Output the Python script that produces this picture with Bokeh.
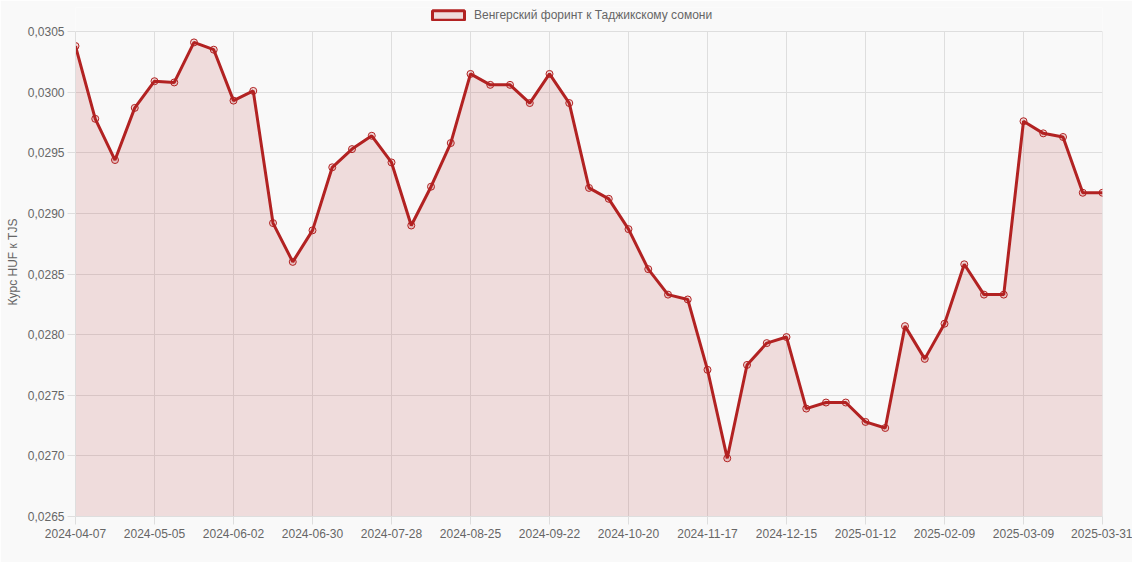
from bokeh.plotting import figure
from bokeh.models import Range1d, FixedTicker, CustomJSTickFormatter, Legend, LegendItem
from bokeh.embed import file_html
from bokeh.resources import INLINE

dates = [
    "2024-04-07", "2024-04-14", "2024-04-21", "2024-04-28", "2024-05-05", "2024-05-12",
    "2024-05-19", "2024-05-26", "2024-06-02", "2024-06-09", "2024-06-16", "2024-06-23",
    "2024-06-30", "2024-07-07", "2024-07-14", "2024-07-21", "2024-07-28", "2024-08-04",
    "2024-08-11", "2024-08-18", "2024-08-25", "2024-09-01", "2024-09-08", "2024-09-15",
    "2024-09-22", "2024-09-29", "2024-10-06", "2024-10-13", "2024-10-20", "2024-10-27",
    "2024-11-03", "2024-11-10", "2024-11-17", "2024-11-24", "2024-12-01", "2024-12-08",
    "2024-12-15", "2024-12-22", "2024-12-29", "2025-01-05", "2025-01-12", "2025-01-19",
    "2025-01-26", "2025-02-02", "2025-02-09", "2025-02-16", "2025-02-23", "2025-03-02",
    "2025-03-09", "2025-03-16", "2025-03-23", "2025-03-30", "2025-03-31",
]

rates = [
    0.03038, 0.02978, 0.02944, 0.02987, 0.03009, 0.03008,
    0.03041, 0.03035, 0.02993, 0.03001, 0.02892, 0.02860,
    0.02886, 0.02938, 0.02953, 0.02964, 0.02942, 0.02890,
    0.02922, 0.02958, 0.03015, 0.03006, 0.03006, 0.02991,
    0.03015, 0.02991, 0.02921, 0.02912, 0.02887, 0.02854,
    0.02833, 0.02829, 0.02771, 0.02698, 0.02775, 0.02793,
    0.02798, 0.02739, 0.02744, 0.02744, 0.02728, 0.02723,
    0.02807, 0.02780, 0.02809, 0.02858, 0.02833, 0.02833,
    0.02976, 0.02966, 0.02963, 0.02917, 0.02917,
]

y_ticks = [0.0265, 0.0270, 0.0275, 0.0280, 0.0285, 0.0290, 0.0295, 0.0300, 0.0305]
series_name = "Венгерский форинт к Таджикскому сомони"
y_title = "Курс HUF к TJS"

LINE = "#b22222"
FILL = "#b22222"
BG = "#f9f9f9"
GRID = "#dedede"
TXT = "#666666"
FONT = "Liberation Sans"

xs = list(range(len(dates)))
x_ticks = [i for i in xs if i % 4 == 0]
if xs[-1] not in x_ticks:
    x_ticks.append(xs[-1])

# plot area is 485 px tall for the tick span; extra 24 px headroom inside the frame for the legend
PLOT_PX, HEAD_PX = 485, 24
y_lo, y_hi = y_ticks[0], y_ticks[-1]
y_top = y_hi + (y_hi - y_lo) * HEAD_PX / PLOT_PX

p = figure(width=1132, height=562, output_backend="svg", toolbar_location=None,
           x_range=Range1d(0, len(dates) - 1), y_range=Range1d(y_lo, y_top),
           min_border_left=75, min_border_right=30, min_border_top=7, min_border_bottom=46)
p.background_fill_color = BG
p.border_fill_color = BG
p.outline_line_color = None

# vertical grid lines limited to the plotting span
p.segment(x0=x_ticks, y0=[y_lo] * len(x_ticks), x1=x_ticks, y1=[y_hi] * len(x_ticks),
          line_color=GRID, line_width=1)

area = p.varea(x=xs, y1=[0] * len(xs), y2=rates, fill_color=FILL, fill_alpha=0.13)
line = p.line(xs, rates, line_color=LINE, line_width=3)
pts = p.scatter(xs, rates, size=7, fill_color=FILL, fill_alpha=0.15, line_color=LINE, line_width=1)
# legend-only swatch, placed outside the visible x range
dummy = p.quad(left=[-3], right=[-2], top=[y_lo], bottom=[y_lo], fill_color=FILL, fill_alpha=0.13,
               line_color=LINE, line_width=3)

p.xaxis.ticker = FixedTicker(ticks=x_ticks)
p.xaxis.formatter = CustomJSTickFormatter(args=dict(labels=dates),
                                          code="return labels[Math.round(tick)] || '';")
p.yaxis.ticker = FixedTicker(ticks=y_ticks)
p.yaxis.formatter = CustomJSTickFormatter(code="return tick.toFixed(4).replace('.', ',');")
p.yaxis.bounds = (y_lo, y_hi)

for ax in (p.xaxis[0], p.yaxis[0]):
    ax.axis_line_color = GRID
    ax.major_tick_line_color = GRID
    ax.major_tick_out = 8
    ax.major_tick_in = 0
    ax.minor_tick_line_color = None
    ax.major_label_text_font = FONT
    ax.major_label_text_font_size = "12px"
    ax.major_label_text_color = TXT
    ax.major_label_standoff = 3

p.xaxis.major_label_standoff = 4
p.yaxis.axis_label = y_title
p.yaxis.axis_label_text_font = FONT
p.yaxis.axis_label_text_font_size = "12px"
p.yaxis.axis_label_text_font_style = "normal"
p.yaxis.axis_label_text_color = TXT
p.yaxis.axis_label_standoff = 5

p.xgrid.visible = False
p.ygrid.grid_line_color = GRID
p.ygrid.ticker = FixedTicker(ticks=y_ticks)

legend = Legend(items=[LegendItem(label=series_name, renderers=[dummy])],
                location=(353, 494), orientation="horizontal",
                glyph_width=40, glyph_height=12, label_standoff=6,
                padding=0, margin=0, spacing=0,
                background_fill_alpha=0, border_line_alpha=0,
                label_text_font=FONT, label_text_font_size="12px", label_text_color=TXT)
p.add_layout(legend, "center")

open("out.html", "w").write(file_html(p, INLINE))
